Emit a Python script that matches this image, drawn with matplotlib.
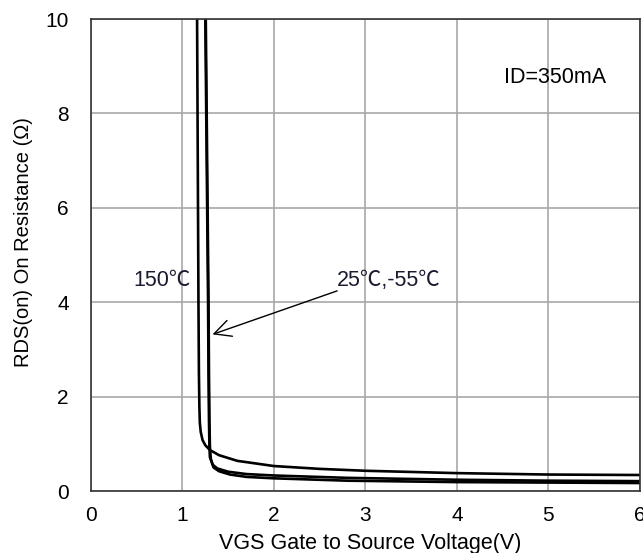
import matplotlib.pyplot as plt

plt.rcParams['font.family'] = ['Liberation Sans', 'DejaVu Sans']

# 150C curve
x_150 = [1.16, 1.165, 1.17, 1.175, 1.18, 1.185, 1.19, 1.20, 1.22, 1.25, 1.30, 1.40, 1.60, 2.0, 2.5, 3.0, 4.0, 5.0, 6.0]
y_150 = [10.0, 8.0, 6.0, 4.0, 2.5, 1.8, 1.45, 1.25, 1.08, 0.97, 0.87, 0.76, 0.64, 0.53, 0.47, 0.43, 0.38, 0.35, 0.34]

# 25C curve
x_25 = [1.25, 1.26, 1.27, 1.28, 1.285, 1.29, 1.295, 1.30, 1.33, 1.38, 1.50, 1.70, 2.0, 2.8, 4.0, 5.0, 6.0]
y_25 = [10.0, 8.0, 6.0, 4.0, 2.5, 1.5, 0.95, 0.72, 0.56, 0.48, 0.41, 0.36, 0.33, 0.28, 0.24, 0.22, 0.21]

# -55C curve
x_m55 = [1.255, 1.265, 1.275, 1.285, 1.29, 1.295, 1.30, 1.31, 1.34, 1.40, 1.52, 1.70, 2.0, 2.8, 4.0, 5.0, 6.0]
y_m55 = [10.0, 8.0, 6.0, 4.0, 2.5, 1.5, 0.95, 0.68, 0.50, 0.42, 0.35, 0.30, 0.27, 0.22, 0.19, 0.18, 0.17]

x_ticks = [0, 1, 2, 3, 4, 5, 6]
y_ticks = [0, 2, 4, 6, 8, 10]

fig = plt.figure(figsize=(6.43, 5.53), dpi=100)
ax = fig.add_axes([0.1415, 0.112, 0.8535, 0.8536])

ax.plot(x_150, y_150, color='black', lw=1.9)
ax.plot(x_25, y_25, color='black', lw=1.9)
ax.plot(x_m55, y_m55, color='black', lw=1.9)

ax.set_xlim(0, 6)
ax.set_ylim(0, 10)
ax.set_xticks(x_ticks)
ax.set_yticks(y_ticks)
ax.tick_params(length=0, labelsize=15)
ax.tick_params(axis='x', pad=11)
ax.tick_params(axis='y', pad=16)
ax.grid(True, color='#a8a8a8', lw=1.2)
ax.set_axisbelow(True)
for s in ax.spines.values():
    s.set_color('#333333')
    s.set_linewidth(1.2)

ax.set_xlabel('VGS Gate to Source Voltage(V)', fontsize=15.5)
ax.set_ylabel('RDS(on) On Resistance (Ω)', fontsize=14.5)
ax.xaxis.set_label_coords(0.508, -0.089)
ax.yaxis.set_label_coords(-0.106, 0.528)

cjk = ['Liberation Sans', 'Noto Sans CJK SC', 'DejaVu Sans']
ax.text(5.07, 8.77, 'ID=350mA', fontsize=15.5, va='center', ha='center')
ax.text(0.78, 4.47, '150℃', fontsize=15.5, va='center', ha='center', color='#1a1a30', family=cjk)
ax.text(3.25, 4.47, '25℃,-55℃', fontsize=15.5, va='center', ha='center', color='#1a1a30', family=cjk)
ax.annotate('', xy=(1.30, 3.30), xytext=(2.72, 4.26),
            arrowprops=dict(arrowstyle='->,head_length=0.6,head_width=0.3',
                            color='black', lw=1.0, mutation_scale=20))

fig.savefig('out.png', dpi=100)
